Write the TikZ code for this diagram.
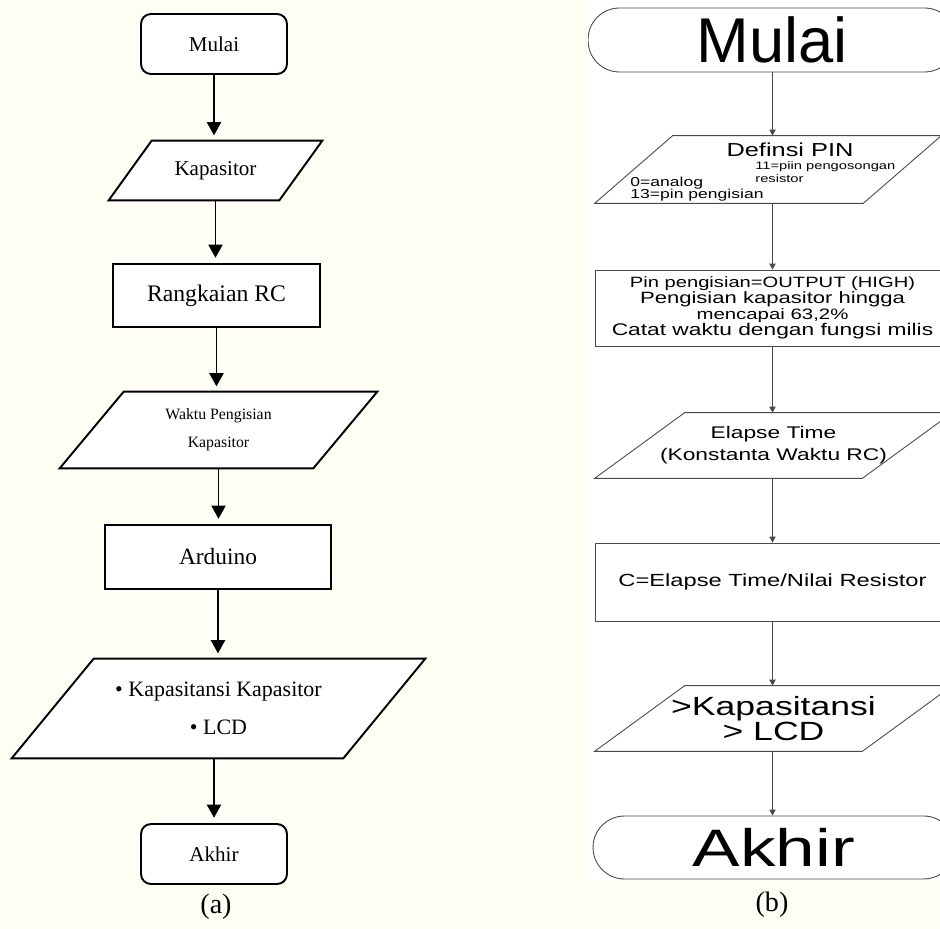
\documentclass[tikz,border=0pt]{standalone}
\usepackage{fontspec}
\setmainfont{Liberation Serif}
\newfontfamily\arialish{Liberation Sans}
\newfontfamily\wideSans[FakeStretch=1.35]{Liberation Sans}
\usetikzlibrary{arrows.meta}

\pgfdeclarelayer{back}
\pgfsetlayers{back,main}

\definecolor{paper}{HTML}{FFFEF5}
\definecolor{lineB}{HTML}{4A4A4A}

\newcommand{\fsz}[2]{\fontsize{#1}{#2}\selectfont}

\tikzset{
  termA/.style={draw, line width=1.1pt, rounded corners=0.2cm, fill=white,
                minimum width=2.92cm, minimum height=1.2cm},
  procA/.style={draw, line width=1.1pt, fill=white},
  ioA/.style={inner sep=0pt},
  frameA/.style={line width=1.1pt, fill=white},
  arrA/.style={line width=1.1pt, -{Triangle[width=8pt,length=7.5pt]}, shorten >=3pt},
  termB/.style={draw=lineB, line width=0.5pt, rounded corners=0.63cm, fill=white},
  procB/.style={draw=lineB, line width=0.5pt, fill=white},
  frameB/.style={draw=lineB, line width=0.5pt, fill=white},
  arrB/.style={draw=lineB, line width=0.5pt, -{Triangle[width=3.6pt,length=3.4pt]}},
}

\begin{document}
\begin{tikzpicture}[x=0.02cm, y=-0.02cm]
\useasboundingbox (0,0) rectangle (940,929);

% PAPER
\begin{pgfonlayer}{back}
  \fill[paper] (0,0) rectangle (940,929);
  \fill[white] (588,0) rectangle (940,880);
\end{pgfonlayer}

% (a) FLOWCHART
  \node[termA, font=\fsz{12}{14}] (mulaiA) at (214,44) {Mulai};
  \node[ioA, minimum width=3.4cm, minimum height=1.18cm, font=\fsz{12}{14}] (kapA) at (215.5,170.5) {Kapasitor};
  \node[procA, minimum width=4.14cm, minimum height=1.26cm, font=\fsz{13.5}{16}] (rcA) at (216.5,295.5) {Rangkaian RC};
  \node[ioA, minimum width=5.06cm, minimum height=1.52cm, align=center, font=\fsz{9}{15.9}] (waktuA) at (218.5,430) {Waktu Pengisian\\Kapasitor};
  \node[procA, minimum width=4.52cm, minimum height=1.28cm, font=\fsz{13.3}{16}] (ardA) at (218,557) {Arduino};
  \node[ioA, minimum width=6.62cm, minimum height=1.98cm, align=center, font=\fsz{12.5}{21.5}] (outA) at (218.5,708.5) {\textbullet\ Kapasitansi Kapasitor\\\textbullet\ LCD};
  \node[termA, font=\fsz{12}{14}] (akhirA) at (214,854) {Akhir};
  \node[font=\fsz{16}{18}] (capA) at (216,907) {(a)};

  \begin{pgfonlayer}{back}
  \foreach \n/\s in {kapA/21.5, waktuA/32, outA/41}
    \draw[frameA] ([xshift=\s*0.02cm]\n.north west) -- ([xshift=\s*0.02cm]\n.north east)
      -- ([xshift=-\s*0.02cm]\n.south east) -- ([xshift=-\s*0.02cm]\n.south west) -- cycle;
  \end{pgfonlayer}

  \foreach \a/\b in {mulaiA/kapA, kapA/rcA, rcA/waktuA, waktuA/ardA, ardA/outA}
    \draw[arrA] (\a.south) -- (\a.south |- \b.north);
  \draw[arrA] (akhirA.north |- outA.south) -- (akhirA.north);

% (b) FLOWCHART
\begin{scope}
  \clip (588,0) rectangle (940,929);
  \node[termB, minimum width=7.36cm, minimum height=1.28cm, font=\arialish\fsz{36}{40}] (mulaiB) at (772,40) {Mulai};
  \node[ioA, minimum width=5.36cm, minimum height=1.34cm] (defB) at (768,169.5) {};
  \node[procB, minimum width=7.1cm, minimum height=1.52cm, align=center, font=\wideSans\fsz{9}{9.1}] (pinB) at (772.5,308)
    {\fsz{8.5}{9.1}Pin pengisian=OUTPUT (HIGH)\\\fsz{9.3}{9.1}Pengisian kapasitor hingga\\
     \fsz{8.6}{9.1}mencapai 63,2\%\\\fsz{9.6}{9.1}Catat waktu dengan fungsi milis};
  \node[ioA, minimum width=5.34cm, minimum height=1.3cm, align=center, font=\wideSans\fsz{9.6}{12.4}] (elB) at (773.5,445.5) {Elapse Time\\(Konstanta Waktu RC)};
  \node[procB, minimum width=7.1cm, minimum height=1.56cm, font=\wideSans\fsz{10}{12}] (cB) at (772.5,582) {C=Elapse Time/Nilai Resistor};
  \node[ioA, minimum width=5.34cm, minimum height=1.3cm, align=center, font=\wideSans\fsz{15}{14.2}] (kapB) at (773.5,718.5) {>Kapasitansi\\> LCD};
  \node[termB, minimum width=7.24cm, minimum height=1.26cm, font=\wideSans\fsz{30}{32}] (akhirB) at (774,847.5) {Akhir};
\end{scope}

% PIN texts
  \node[font=\wideSans\fsz{10.7}{12}] (defTitle) at (790,150) {Definsi PIN};
  \node[anchor=west, inner sep=0pt, align=left, font=\wideSans\fsz{6.2}{7.4}] (defPinR) at (755,172.5) {11=piin pengosongan\\resistor};
  \node[anchor=west, inner sep=0pt, align=left, font=\wideSans\fsz{7.4}{7}] (defPinL) at (630,189) {0=analog\\13=pin pengisian};

  \begin{pgfonlayer}{back}
  \begin{scope}
  \clip (588,0) rectangle (940,929);
  \foreach \n/\s in {defB/39, elB/45, kapB/45}
    \draw[frameB] ([xshift=\s*0.02cm]\n.north west) -- ([xshift=\s*0.02cm]\n.north east)
      -- ([xshift=-\s*0.02cm]\n.south east) -- ([xshift=-\s*0.02cm]\n.south west) -- cycle;
  \end{scope}
  \end{pgfonlayer}

  \foreach \a/\b in {mulaiB/defB, defB/pinB, pinB/elB, elB/cB, cB/kapB, kapB/akhirB}
    \draw[arrB] (\a.south -| cB) -- (\b.north -| cB);

  \node[font=\fsz{16}{18}] (capB) at (772,905) {(b)};
\end{tikzpicture}
\end{document}
